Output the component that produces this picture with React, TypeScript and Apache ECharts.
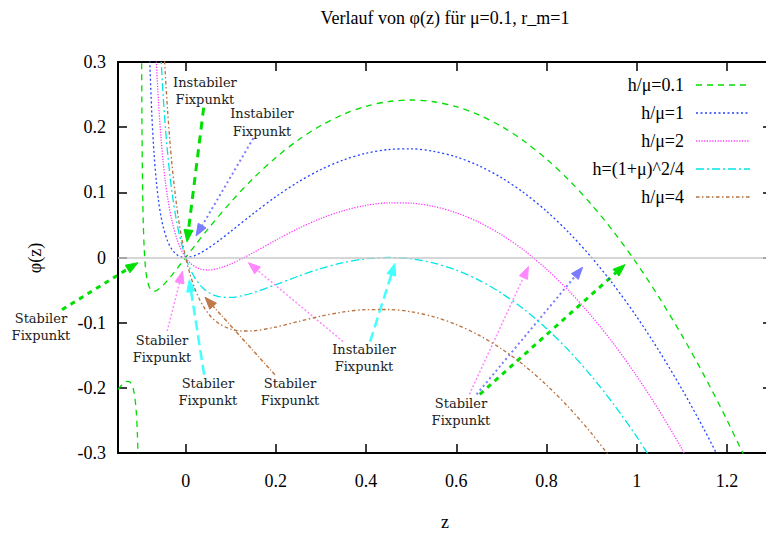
import React, { useEffect, useRef } from "react";
import * as echarts from "echarts";

// ---- data ----
const X_TICKS = [0, 0.2, 0.4, 0.6, 0.8, 1.0, 1.2];
const SERIES_NAMES = ["h/μ=0.1", "h/μ=1", "h/μ=2", "h=(1+μ)^2/4", "h/μ=4"];

// h/μ = 0.1 : branch left of the pole
const Z_GREEN_LEFT = [-0.15, -0.14, -0.13, -0.125, -0.12, -0.115, -0.11, -0.107, -0.105, -0.104];
const PHI_GREEN_LEFT = [-0.2025, -0.1946, -0.1902, -0.1906, -0.1944, -0.2049, -0.2321, -0.2713, -0.326, -0.3748];

// h/μ = 0.1 : main branch
const Z_GREEN = [-0.098, -0.097, -0.096, -0.095, -0.094, -0.092, -0.09, -0.088, -0.085, -0.08, -0.075, -0.07, -0.065, -0.06, -0.05, -0.04, -0.03, -0.02, -0.01, 0, 0.02, 0.05,
  0.1, 0.15, 0.2, 0.25, 0.3, 0.35, 0.4, 0.45, 0.5, 0.55, 0.6, 0.65, 0.7, 0.75, 0.8, 0.85, 0.9, 0.95, 1.0, 1.05, 1.1, 1.15, 1.2, 1.25];
const PHI_GREEN = [0.3824, 0.2169, 0.1348, 0.086, 0.0538, 0.0145, -0.0081, -0.0224, -0.0356, -0.0464, -0.0506, -0.0516, -0.0507, -0.0486, -0.0425, -0.0349, -0.0266, -0.0179, -0.009, 0, 0.0179, 0.0442,
  0.085, 0.1215, 0.1533, 0.1804, 0.2025, 0.2197, 0.232, 0.2393, 0.2417, 0.239, 0.2314, 0.2188, 0.2013, 0.1787, 0.1511, 0.1186, 0.081, 0.0385, -0.0091, -0.0616, -0.1192, -0.1817, -0.2492, -0.3218];

// h/μ = 1
const Z_BLUE = [-0.085, -0.08, -0.075, -0.07, -0.065, -0.06, -0.055, -0.05, -0.04, -0.03, -0.02, -0.01, 0, 0.01, 0.02, 0.03, 0.05, 0.075,
  0.1, 0.15, 0.2, 0.25, 0.3, 0.35, 0.4, 0.45, 0.5, 0.55, 0.6, 0.65, 0.7, 0.75, 0.8, 0.85, 0.9, 0.95, 1.0, 1.05, 1.1, 1.15, 1.2];
const PHI_BLUE = [0.4744, 0.3136, 0.2194, 0.1584, 0.1165, 0.0864, 0.0642, 0.0475, 0.0251, 0.012, 0.0046, 0.001, 0, 0.0008, 0.0029, 0.006, 0.0142, 0.0265,
  0.04, 0.0675, 0.0933, 0.1161, 0.135, 0.1497, 0.16, 0.1657, 0.1667, 0.1629, 0.1543, 0.1408, 0.1225, 0.0993, 0.0711, 0.038, 0, -0.043, -0.0909, -0.1438, -0.2017, -0.2645, -0.3323];

// h/μ = 2
const Z_PINK = [-0.07, -0.065, -0.06, -0.055, -0.05, -0.045, -0.04, -0.03, -0.02, -0.01, 0, 0.01, 0.02, 0.03, 0.04, 0.05, 0.06, 0.075, 0.1, 0.125, 0.15,
  0.2, 0.25, 0.3, 0.35, 0.4, 0.45, 0.5, 0.55, 0.6, 0.65, 0.7, 0.75, 0.8, 0.85, 0.9, 0.95, 1.0, 1.05, 1.1, 1.15];
const PHI_PINK = [0.3918, 0.3022, 0.2364, 0.1864, 0.1475, 0.1166, 0.0917, 0.0548, 0.0296, 0.0121, 0, -0.0083, -0.0137, -0.0171, -0.0187, -0.0192, -0.0186, -0.0163, -0.01, -0.0017, 0.0075,
  0.0267, 0.0446, 0.06, 0.0719, 0.08, 0.0839, 0.0833, 0.0783, 0.0686, 0.0542, 0.035, 0.011, -0.0178, -0.0514, -0.09, -0.1335, -0.1818, -0.2351, -0.2933, -0.3565];

// h = (1+μ)^2/4
const Z_CYAN = [-0.06, -0.055, -0.05, -0.045, -0.04, -0.035, -0.03, -0.02, -0.01, 0, 0.01, 0.02, 0.03, 0.04, 0.05, 0.06, 0.075, 0.1, 0.125, 0.15,
  0.2, 0.25, 0.3, 0.35, 0.4, 0.45, 0.5, 0.55, 0.6, 0.65, 0.7, 0.75, 0.8, 0.85, 0.9, 0.95, 1.0, 1.05];
const PHI_CYAN = [0.3902, 0.3117, 0.25, 0.2005, 0.1601, 0.1267, 0.0987, 0.0552, 0.0235, 0, -0.0176, -0.0308, -0.0407, -0.048, -0.0533, -0.057, -0.0603, -0.0613, -0.0587, -0.054,
  -0.0417, -0.0286, -0.0169, -0.0078, -0.002, 0, -0.0021, -0.0085, -0.0193, -0.0347, -0.0547, -0.0794, -0.1089, -0.1432, -0.1823, -0.2262, -0.275, -0.3287];

// h/μ = 4
const Z_BROWN = [-0.05, -0.045, -0.04, -0.035, -0.03, -0.02, -0.01, 0, 0.01, 0.02, 0.03, 0.04, 0.05, 0.06, 0.075, 0.1, 0.125, 0.15,
  0.2, 0.25, 0.3, 0.35, 0.4, 0.45, 0.5, 0.55, 0.6, 0.65, 0.7, 0.75, 0.8, 0.85, 0.9, 0.95];
const PHI_BROWN = [0.3475, 0.2803, 0.2251, 0.1792, 0.1405, 0.0796, 0.0343, 0, -0.0265, -0.0471, -0.0632, -0.0759, -0.0858, -0.0936, -0.102, -0.11, -0.1128, -0.1125,
  -0.1067, -0.0982, -0.09, -0.0836, -0.08, -0.0798, -0.0833, -0.091, -0.1029, -0.1192, -0.14, -0.1654, -0.1956, -0.2304, -0.27, -0.3144];

// ---- annotations (data coordinates) ----
const LABEL_TEXTS = ["Instabiler\nFixpunkt", "Instabiler\nFixpunkt", "Stabiler\nFixpunkt", "Stabiler\nFixpunkt", "Stabiler\nFixpunkt", "Stabiler\nFixpunkt", "Instabiler\nFixpunkt", "Stabiler\nFixpunkt"];
const LABEL_POS = [[0.0428, 0.2553], [0.1692, 0.207], [-0.3208, -0.1069], [-0.0525, -0.1406], [0.0494, -0.2064], [0.2313, -0.2064], [0.3954, -0.1544], [0.6104, -0.2371]];

const GREEN = "#00dd00";
const BLUE = "#2244ff";
const PINK = "#ff33ff";
const CYAN = "#00e6e6";
const BROWN = "#b8703c";

const ARROWS = [
  { from: [0.04, 0.23], to: [0.003, 0.024], color: "#00e000", width: 3, dash: [8, 6] },
  { from: [0.15, 0.183], to: [0.023, 0.033], color: "#7b7bff", width: 2, dash: [2, 3] },
  { from: [-0.274, -0.08], to: [-0.106, -0.008], color: "#00e000", width: 3, dash: [5, 5] },
  { from: [-0.041, -0.113], to: [-0.007, -0.021], color: "#ff88ff", width: 1.5, dash: [2, 2] },
  { from: [0.041, -0.18], to: [0.008, -0.034], color: "#44ffff", width: 2.5, dash: [10, 5] },
  { from: [0.198, -0.18], to: [0.043, -0.061], color: "#c07a4a", width: 1.5, dash: [4, 2, 1, 2] },
  { from: [0.349, -0.129], to: [0.139, -0.008], color: "#ff88ff", width: 1.5, dash: [2, 2] },
  { from: [0.409, -0.129], to: [0.464, -0.009], color: "#44ffff", width: 2.5, dash: [10, 5] },
  { from: [0.629, -0.21], to: [0.76, -0.014], color: "#ff88ff", width: 1.5, dash: [2, 2] },
  { from: [0.645, -0.21], to: [0.88, -0.015], color: "#7b7bff", width: 2, dash: [2, 3] },
  { from: [0.652, -0.21], to: [0.974, -0.011], color: "#00e000", width: 3, dash: [5, 5] },
];

const SERIF = "Liberation Serif, Times New Roman, serif";
const ANNOT_FONT = "DejaVu Serif, serif";

const zip = (xs: number[], ys: number[]) => xs.map((x, i) => [x, ys[i]]);
const fmt = (v: number) => String(Math.round(v * 10) / 10);

export default function App() {
  const ref = useRef<HTMLDivElement>(null);
  useEffect(() => {
    if (!ref.current) return;
    const chart = echarts.init(ref.current, null, { renderer: "svg" });
    const styles = [
      { color: GREEN, dash: [6, 5] },
      { color: BLUE, dash: [2, 2.5] },
      { color: PINK, dash: [1.2, 1.5] },
      { color: CYAN, dash: [8, 3, 2, 3] },
      { color: BROWN, dash: [3.5, 2.5, 1.5, 2.5] },
    ];
    const datas = [
      zip(Z_GREEN, PHI_GREEN),
      zip(Z_BLUE, PHI_BLUE),
      zip(Z_PINK, PHI_PINK),
      zip(Z_CYAN, PHI_CYAN),
      zip(Z_BROWN, PHI_BROWN),
    ];
    const lineSeries: any[] = datas.map((d, i) => ({
      type: "line",
      name: SERIES_NAMES[i],
      data: d,
      showSymbol: false,
      smooth: 0.3,
      clip: true,
      silent: true,
      lineStyle: { color: styles[i].color, width: 1.3, type: styles[i].dash },
    }));
    lineSeries.push({
      type: "line",
      name: SERIES_NAMES[0] + " ",
      data: zip(Z_GREEN_LEFT, PHI_GREEN_LEFT),
      showSymbol: false,
      smooth: 0.3,
      clip: true,
      silent: true,
      lineStyle: { color: GREEN, width: 1.3, type: styles[0].dash },
    });
    const axisCommon = {
      axisLine: { show: true, onZero: false, lineStyle: { color: "#000", width: 2 } },
      splitLine: { show: false },
    };
    chart.setOption({
      animation: false,
      textStyle: { fontFamily: SERIF },
      grid: { left: 118, top: 62, width: 654, height: 391, containLabel: false },
      xAxis: [
        {
          type: "value", min: -0.15, max: 1.3, position: "bottom", ...axisCommon,
          axisTick: { inside: true, length: 9, customValues: X_TICKS, lineStyle: { color: "#000", width: 1.5 } },
          axisLabel: { customValues: X_TICKS, formatter: fmt, margin: 19, fontFamily: SERIF, fontSize: 18, color: "#000" },
        },
        {
          type: "value", min: -0.15, max: 1.3, position: "top", ...axisCommon,
          axisTick: { inside: true, length: 9, customValues: X_TICKS, lineStyle: { color: "#000", width: 1.5 } },
          axisLabel: { show: false },
        },
      ],
      yAxis: [
        {
          type: "value", min: -0.3, max: 0.3, interval: 0.1, position: "left", ...axisCommon,
          axisTick: { inside: true, length: 9, lineStyle: { color: "#000", width: 1.5 } },
          axisLabel: { formatter: fmt, margin: 12, fontFamily: SERIF, fontSize: 18, color: "#000" },
        },
        {
          type: "value", min: -0.3, max: 0.3, interval: 0.1, position: "right", ...axisCommon,
          axisTick: { inside: true, length: 9, lineStyle: { color: "#000", width: 1.5 } },
          axisLabel: { show: false },
        },
      ],
      series: [
        {
          type: "line",
          name: "zero",
          data: [],
          silent: true,
          markLine: {
            silent: true,
            symbol: ["none", "none"],
            label: { show: false },
            lineStyle: { color: "#c8c8c8", type: "solid", width: 1.5 },
            data: [{ yAxis: 0 }],
          },
        },
        ...lineSeries,
      ],
    });

    const toPx = (p: number[]) => chart.convertToPixel({ xAxisIndex: 0, yAxisIndex: 0 }, p) as number[];
    const txt = (text: string, x: number, y: number, size: number, family: string, align: string, extra: any = {}) => ({
      type: "text", x, y, ...extra,
      style: { text, align, verticalAlign: "middle", fontSize: size, fontFamily: family, fill: "#000" },
    });
    const graphic: any[] = [];
    graphic.push(txt("Verlauf von φ(z) für μ=0.1, r_m=1", 445, 18, 18, SERIF, "center"));
    graphic.push(txt("z", 445, 522, 18, SERIF, "center"));
    graphic.push(txt("φ(z)", 35, 258, 18, SERIF, "center", { rotation: Math.PI / 2 }));
    const legendY = [85, 113, 141, 169, 197];
    SERIES_NAMES.forEach((n, i) => {
      graphic.push(txt(n, 684, legendY[i], 18, SERIF, "right"));
      graphic.push({ type: "line", shape: { x1: 696, y1: legendY[i], x2: 750, y2: legendY[i] }, style: { stroke: styles[i].color, lineWidth: 1.3, lineDash: styles[i].dash } });
    });
    LABEL_TEXTS.forEach((t, i) => {
      const p = toPx(LABEL_POS[i]);
      graphic.push({
        type: "text", x: p[0], y: p[1],
        style: { text: t, align: "center", verticalAlign: "middle", fontSize: 13, fontFamily: ANNOT_FONT, lineHeight: 17.5, fill: "#222" },
      });
    });
    ARROWS.forEach((a) => {
      const t = toPx(a.from);
      const h = toPx(a.to);
      const dx = h[0] - t[0];
      const dy = h[1] - t[1];
      const len = Math.sqrt(dx * dx + dy * dy);
      const ux = dx / len;
      const uy = dy / len;
      const L = 12;
      const W = 4.5;
      const bx = h[0] - ux * L;
      const by = h[1] - uy * L;
      graphic.push({ type: "line", shape: { x1: t[0], y1: t[1], x2: bx, y2: by }, style: { stroke: a.color, lineWidth: a.width, lineDash: a.dash } });
      graphic.push({
        type: "polygon",
        shape: { points: [[h[0], h[1]], [bx - uy * W, by + ux * W], [bx + uy * W, by - ux * W]] },
        style: { fill: a.color, stroke: a.color, lineWidth: 1 },
      });
    });
    chart.setOption({ graphic });
    return () => chart.dispose();
  }, []);
  return (
    <div style={{ position: "fixed", left: 0, top: 0, width: 766, height: 534, overflow: "hidden", background: "#fff" }}>
      <div ref={ref} style={{ width: 790, height: 534 }} />
    </div>
  );
}
